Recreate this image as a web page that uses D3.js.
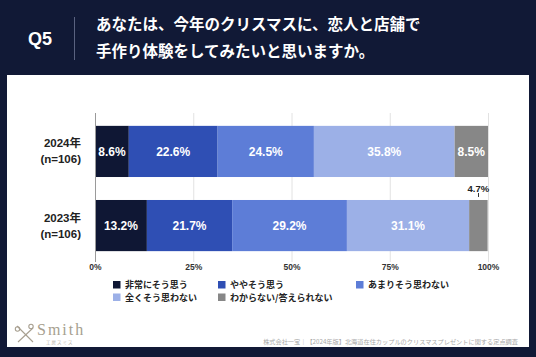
<!DOCTYPE html>
<html><head><meta charset="utf-8">
<script src="https://cdn.jsdelivr.net/npm/d3@7"></script>
<style>
html,body{margin:0;padding:0;background:#111936;}
svg{display:block;}
</style></head>
<body>
<svg id="c" width="536" height="357"></svg>
<script>
const categories = ["2024年", "2023年"];
const sampleLabels = ["(n=106)", "(n=106)"];
const seriesNames = ["非常にそう思う", "ややそう思う", "あまりそう思わない", "全くそう思わない", "わからない/答えられない"];
const values2024 = [8.6, 22.6, 24.5, 35.8, 8.5];
const values2023 = [13.2, 21.7, 29.2, 31.1, 4.7];
const tickValues = [0, 25, 50, 75, 100];
const tickLabels = ["0%", "25%", "50%", "75%", "100%"];
const colors = ["#0f1734", "#2f4fb4", "#5d7dd7", "#9cb0e7", "#878787"];
const titleLines = ["あなたは、今年のクリスマスに、恋人と店舗で", "手作り体験をしてみたいと思いますか。"];
const qLabel = "Q5";
const sourceText = "株式会社一宝｜【2024年版】北海道在住カップルのクリスマスプレゼントに関する定点調査";

const dataRows = [values2024, values2023];
const FONT = "'Liberation Sans','Noto Sans CJK JP',sans-serif";
const JP = "'Noto Sans CJK JP',sans-serif";

const svg = d3.select("#c");
svg.append("rect").attr("width",536).attr("height",357).attr("fill","#111936");

// header
svg.append("text").attr("x",40).attr("y",39).attr("text-anchor","middle")
  .attr("dominant-baseline","central").attr("fill","#fff")
  .attr("font-family",FONT).attr("font-weight",700).attr("font-size",18).text(qLabel);
svg.append("line").attr("x1",74.5).attr("x2",74.5).attr("y1",17).attr("y2",60)
  .attr("stroke","#5a6280").attr("stroke-width",1);
svg.selectAll("text.title").data(titleLines).join("text").attr("class","title")
  .attr("x",96).attr("y",(d,i)=>23+i*27).attr("dominant-baseline","central")
  .attr("fill","#fff").attr("font-family",JP).attr("font-weight",700)
  .attr("font-size",15.5).text(d=>d);

// panel
svg.append("rect").attr("x",7).attr("y",75).attr("width",522).attr("height",272).attr("fill","#fff");

const x = d3.scaleLinear().domain([0,100]).range([95,488]);
const y = d3.scaleBand().domain(categories).range([114,263]).paddingInner(0.31).paddingOuter(0.16);

// gridlines
svg.append("g").selectAll("line").data(tickValues.slice(1)).join("line")
  .attr("x1",d=>x(d)+0.5).attr("x2",d=>x(d)+0.5).attr("y1",113).attr("y2",262)
  .attr("stroke","#e2e2e2").attr("stroke-width",1);

// bars
const stacks = dataRows.map((vals,ri)=>{
  let acc=0;
  return vals.map((v,si)=>{const s={cat:categories[ri],si,v,x0:acc,x1:acc+v};acc+=v;return s;});
});
const flat = stacks.flat();
svg.append("g").selectAll("rect").data(flat).join("rect")
  .attr("x",d=>x(d.x0)).attr("width",d=>x(d.x1)-x(d.x0))
  .attr("y",d=>y(d.cat)).attr("height",y.bandwidth())
  .attr("fill",d=>colors[d.si]);

// labels in bars
svg.append("g").selectAll("text").data(flat.filter(d=>d.v>=6)).join("text")
  .attr("x",d=>x((d.x0+d.x1)/2)).attr("y",d=>y(d.cat)+y.bandwidth()/2+0.5)
  .attr("text-anchor","middle").attr("dominant-baseline","central")
  .attr("fill","#fff").attr("font-family",FONT).attr("font-weight",700).attr("font-size",12)
  .text(d=>d.v.toFixed(1)+"%");
// small label outside
const small = flat.filter(d=>d.v<6);
svg.append("g").selectAll("text").data(small).join("text")
  .attr("x",d=>x((d.x0+d.x1)/2)).attr("y",d=>y(d.cat)-11)
  .attr("text-anchor","middle").attr("dominant-baseline","central")
  .attr("fill","#222").attr("font-family",FONT).attr("font-weight",700).attr("font-size",9.5)
  .text(d=>d.v.toFixed(1)+"%");
svg.append("g").selectAll("line").data(small).join("line")
  .attr("x1",d=>Math.round(x((d.x0+d.x1)/2))+0.5).attr("x2",d=>Math.round(x((d.x0+d.x1)/2))+0.5)
  .attr("y1",d=>y(d.cat)-7).attr("y2",d=>y(d.cat)-3)
  .attr("stroke","#333").attr("stroke-width",1);

// axis line
svg.append("line").attr("x1",95.5).attr("x2",95.5).attr("y1",113).attr("y2",262)
  .attr("stroke","#9a9a9a").attr("stroke-width",1);

// x tick labels
const xAxis = d3.axisBottom(x).tickValues(tickValues).tickSize(0).tickPadding(0)
  .tickFormat((d,i)=>tickLabels[i]);
const gx = svg.append("g").attr("transform","translate(0,264)").call(xAxis);
gx.select(".domain").remove();
gx.selectAll("text").attr("font-family",FONT).attr("font-weight",700).attr("font-size",8.5)
  .attr("fill","#333").attr("dy","0.71em");

// y labels
const gy = svg.append("g");
categories.forEach((c,i)=>{
  const cy = y(c)+y.bandwidth()/2;
  gy.append("text").attr("x",81).attr("y",cy-8).attr("text-anchor","end")
    .attr("dominant-baseline","central").attr("fill","#222").attr("font-family",FONT)
    .attr("font-weight",700).attr("font-size",11.5).text(c);
  gy.append("text").attr("x",81).attr("y",cy+8).attr("text-anchor","end")
    .attr("dominant-baseline","central").attr("fill","#222").attr("font-family",FONT)
    .attr("font-weight",700).attr("font-size",11.5).text(sampleLabels[i]);
});

// legend
const legPos = [[113,284.5],[218,284.5],[356,284.5],[113,297],[218,297]];
const lg = svg.append("g").selectAll("g").data(seriesNames).join("g")
  .attr("transform",(d,i)=>`translate(${legPos[i][0]},${legPos[i][1]})`);
lg.append("rect").attr("x",0).attr("y",-3.5).attr("width",7.5).attr("height",7.5)
  .attr("fill",(d,i)=>colors[i]);
lg.append("text").attr("x",12).attr("y",0).attr("dominant-baseline","central")
  .attr("fill","#222").attr("font-family",JP).attr("font-weight",700).attr("font-size",9)
  .text(d=>d);

// source
svg.append("text").attr("x",518).attr("y",341).attr("text-anchor","end")
  .attr("dominant-baseline","central").attr("fill","#a8a8a8").attr("font-family",JP)
  .attr("font-size",6.2).text(sourceText);

// logo
const logo = svg.append("g").attr("stroke","#a79f90").attr("fill","none").attr("stroke-width",1.1);
logo.append("line").attr("x1",17).attr("y1",326).attr("x2",33).attr("y2",342);
logo.append("line").attr("x1",33).attr("y1",328).attr("x2",18).attr("y2",342);
logo.append("circle").attr("cx",17.5).attr("cy",329).attr("r",2.2);
logo.append("circle").attr("cx",31).attr("cy",326.5).attr("r",2.2);
svg.append("text").attr("x",37).attr("y",335).attr("fill","#a79f90")
  .attr("font-family","'Liberation Serif','DejaVu Serif',serif").attr("font-size",16)
  .attr("letter-spacing",2).text("Smith");
svg.append("text").attr("x",46).attr("y",344).attr("fill","#b5ad9f")
  .attr("font-family",JP).attr("font-size",4.5).attr("letter-spacing",1).text("工房スミス");
</script>
</body></html>
